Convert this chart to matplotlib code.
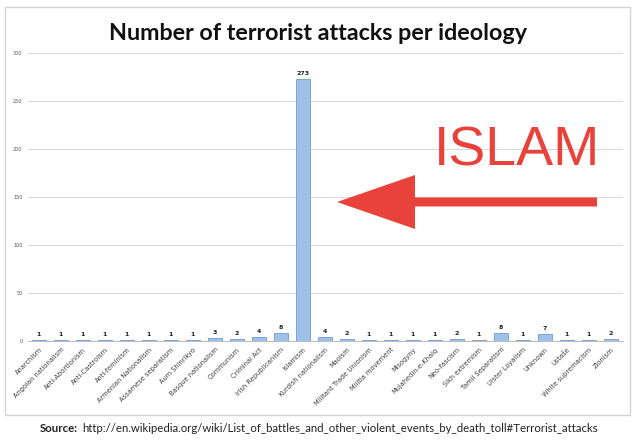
import matplotlib.pyplot as plt
from matplotlib.patches import Rectangle, FancyArrow

# Datos
ideologias = [
    "Anarchism", "Angolan nationalism", "Anti-Abortionism", "Anti-Castroism",
    "Anti-feminism", "Armenian Nationalism", "Assamese separatism", "Aum Shinrikyo",
    "Basque nationalism", "Communism", "Criminal Act", "Irish Republicanism",
    "Islamism", "Kurdish nationalism", "Maoism", "Militant Trade Unionism",
    "Militia movement", "Misogyny", "Mujahedin-e-Khalq", "Neo-fascism",
    "Sikh extremism", "Tamil Separatism", "Ulster Loyalism", "Unknown",
    "Ustaše", "White supremacism", "Zionism",
]
ataques = [1, 1, 1, 1, 1, 1, 1, 1, 3, 2, 4, 8, 273, 4, 2, 1, 1, 1, 1, 2, 1, 8, 1, 7, 1, 1, 2]
yticks = [0, 50, 100, 150, 200, 250, 300]

fig = plt.figure(figsize=(6.4, 4.42), dpi=100)
fig.patch.set_facecolor("white")

# marco gris del grafico
fig.patches.append(Rectangle((5 / 640, 1 - 415 / 442), 625 / 640, 408 / 442,
                             transform=fig.transFigure, fill=False,
                             edgecolor="#d4d4d4", linewidth=1.0))

ax = fig.add_axes([28 / 640, 1 - 341 / 442, 595 / 640, 288 / 442])
x = list(range(len(ideologias)))
ax.bar(x, ataques, width=0.6, color="#9fc0e8", edgecolor="#6e9bd4", linewidth=0.6, zorder=3)

for xi, v in zip(x, ataques):
    ax.text(xi, v + 3, str(v), ha="center", va="bottom", fontsize=4.5,
            fontweight="bold", color="#222222")

ax.set_xlim(-0.5, 26.55)
ax.set_ylim(0, 300)
ax.set_yticks(yticks)
ax.set_yticklabels([str(t) for t in yticks], fontsize=3.5, color="#555555")
ax.set_xticks(x)
ax.set_xticklabels(ideologias, rotation=45, ha="right", rotation_mode="anchor",
                   fontsize=4.8, color="#404040")
ax.tick_params(length=0, pad=4)
ax.grid(axis="y", color="#d9d9d9", linewidth=0.8, zorder=0)
for s in ["top", "right", "left"]:
    ax.spines[s].set_visible(False)
ax.spines["bottom"].set_color("#bfbfbf")

fig.text(318 / 640, 1 - 33 / 442, "Number of terrorist attacks per ideology",
         ha="center", va="center", fontsize=16.8, fontweight="bold",
         family="Lato", color="#111111")

# anotacion en rojo
fig.text(517 / 640, 1 - 151 / 442, "ISLAM", ha="center", va="center",
         fontsize=40, color="#e8423b", family="Liberation Sans")
fig.patches.append(FancyArrow(597 / 640, 1 - 202 / 442, -260 / 640, 0,
                              width=9 / 442, head_width=54 / 442, head_length=78 / 640,
                              length_includes_head=True, transform=fig.transFigure,
                              color="#e8423b", linewidth=0))

# fuente
src = fig.text(40 / 640, 1 - 428 / 442, "Source:", ha="left", va="center",
               fontsize=8.2, fontweight="bold", family="Lato", color="#222222")
renderer = fig.canvas.get_renderer()
bb = src.get_window_extent(renderer=renderer)
fig.text((bb.x1 + 4) / 640, 1 - 428 / 442,
         "http://en.wikipedia.org/wiki/List_of_battles_and_other_violent_events_by_death_toll#Terrorist_attacks",
         ha="left", va="center", fontsize=8.2, family="Lato", color="#222222")

fig.savefig("out.png", dpi=100)
